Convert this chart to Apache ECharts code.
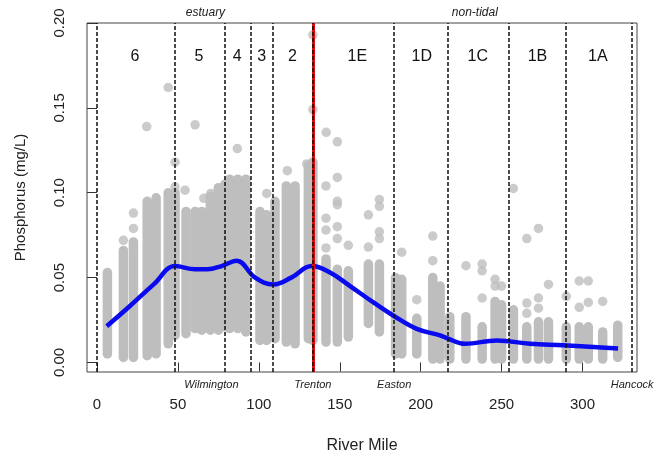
<!DOCTYPE html>
<html><head><meta charset="utf-8">
<script src="https://cdn.jsdelivr.net/npm/echarts@6/dist/echarts.min.js"></script>
<style>html,body{margin:0;padding:0;background:#fff}#c{width:654px;height:459px}</style>
</head><body><div id="c"></div>
<script>
// Station columns of observations: river mile, lowest and highest value in the dense stack
const colMiles = [6.4,16.3,22.5,31,36.5,44,48.2,55,60.6,64.7,70,75,79,82,87,92,100.7,104.8,110,117,122.4,130.6,133.4,141.5,148.5,155.3,167.7,174.5,184.5,188.3,197.6,207.5,212,218,228,238,246,250,257.3,265.6,272.8,279,290,298,303.6,312.5,321.8];
const colLow   = [0.005,0.003,0.003,0.004,0.005,0.011,0.016,0.017,0.020,0.019,0.019,0.019,0.021,0.020,0.020,0.018,0.013,0.013,0.014,0.012,0.011,0.014,0.013,0.012,0.012,0.015,0.023,0.018,0.005,0.005,0.005,0.002,0.002,0.002,0.002,0.002,0.002,0.002,0.002,0.002,0.002,0.002,0.002,0.002,0.002,0.002,0.003];
const colHigh  = [0.053,0.066,0.071,0.095,0.097,0.100,0.100,0.089,0.089,0.089,0.098,0.103,0.105,0.108,0.108,0.108,0.089,0.087,0.095,0.104,0.104,0.116,0.118,0.061,0.055,0.054,0.058,0.058,0.050,0.049,0.026,0.050,0.045,0.027,0.027,0.021,0.036,0.034,0.031,0.021,0.024,0.024,0.021,0.021,0.021,0.018,0.022];
// Individual scattered observations
const outMiles  = [16.3,22.5,22.5,30.7,44,48.2,48.2,54.4,60.6,66,70.3,86.7,104.9,117.6,129.6,133.4,133.4,141.6,141.5,141.5,141.5,141.5,148.5,148.5,148.5,148.5,148.5,148.5,155.3,167.7,167.7,174.5,174.5,174.5,174.5,188.3,197.6,207.5,207.5,228,238,238,238,246,246,250,257.3,265.6,265.6,265.6,272.8,272.8,272.8,279,290,298,298,303.6,303.6,312.5];
const outValues = [0.072,0.079,0.088,0.139,0.162,0.118,0.1035,0.1015,0.140,0.0967,0.0996,0.126,0.0996,0.113,0.117,0.149,0.193,0.1356,0.104,0.085,0.078,0.0675,0.130,0.109,0.095,0.093,0.080,0.073,0.069,0.087,0.068,0.096,0.092,0.077,0.073,0.065,0.037,0.0745,0.060,0.057,0.058,0.054,0.038,0.049,0.045,0.045,0.1025,0.073,0.035,0.029,0.079,0.038,0.032,0.046,0.039,0.048,0.0325,0.048,0.0354,0.036];
// Smoothed trend (blue)
const trendMiles  = [6,20,35,48.3,60.6,68,77,86.3,97.7,109,120,132.7,144,156.4,170.8,183,197.6,212,217,227.4,247,267.6,288,322];
const trendValues = [0.0214,0.033,0.046,0.0568,0.0549,0.0549,0.0568,0.060,0.050,0.046,0.050,0.0568,0.053,0.045,0.0354,0.0277,0.0198,0.016,0.014,0.011,0.013,0.011,0.0101,0.0082];
// Zone boundaries and labels
const zoneBounds = [0,48.2,78.8,95.0,108.4,183.66,217,254.75,289.9,330.7];
const trentonMile = 133.4;
const zoneNames = ['6','5','4','3','2','1E','1D','1C','1B','1A'];
const zoneLabelMiles = [23.5,63,86.7,101.8,120.7,160.9,200.7,235.3,272.2,309.5];
const zoneLabelLevel = 0.18;
const placeNames = ['Wilmington','Trenton','Easton','Hancock'];
const placeMiles = [70.7,133.4,183.66,330.7];
const regionNames = ['estuary','non-tidal'];
const regionMiles = [67,233.5];
const xTicks = [0,50,100,150,200,250,300];
const yTicks = [0,0.05,0.10,0.15,0.20];
const X_MIN = -6.2, X_MAX = 333.7, Y_MIN = -0.0056, Y_MAX = 0.2;

const FONT = "'Liberation Sans', Arial, sans-serif";
const GRAY = '#bebebe';

const chart = echarts.init(document.getElementById('c'), null, {renderer:'canvas'});

const columnData = colMiles.map((m,i)=>[m,colLow[i],colHigh[i]]);
const pointData = outMiles.map((m,i)=>[m,outValues[i]]);
const trendData = trendMiles.map((m,i)=>[m,trendValues[i]]);
const zoneLabelData = zoneLabelMiles.map((m,i)=>[m,zoneLabelLevel,zoneNames[i]]);
const placeData = placeMiles.map((m,i)=>[m,Y_MIN,placeNames[i]]);
const regionData = regionMiles.map((m,i)=>[m,Y_MAX,regionNames[i]]);

chart.setOption({
  animation:false,
  backgroundColor:'#fff',
  grid:{left:87,right:17,top:23,bottom:84,show:true,borderColor:'#444',borderWidth:1,backgroundColor:'transparent'},
  xAxis:{
    type:'value',min:X_MIN,max:X_MAX,
    name:'River Mile',nameLocation:'middle',nameGap:66,
    nameTextStyle:{fontFamily:FONT,fontSize:16,color:'#222'},
    axisLine:{show:false},
    splitLine:{show:false},
    axisTick:{show:true,length:9,inside:false,customValues:xTicks,lineStyle:{color:'#333',width:1}},
    axisLabel:{customValues:xTicks,fontFamily:FONT,fontSize:15,color:'#222',margin:25}
  },
  yAxis:{
    type:'value',min:Y_MIN,max:Y_MAX,
    name:'Phosphorus (mg/L)',nameLocation:'middle',nameGap:59,
    nameTextStyle:{fontFamily:FONT,fontSize:15,color:'#222'},
    axisLine:{show:false},
    splitLine:{show:false},
    axisTick:{show:true,length:10,customValues:yTicks,lineStyle:{color:'#333',width:1}},
    axisLabel:{customValues:yTicks,rotate:90,fontFamily:FONT,fontSize:15,color:'#222',margin:20,
      formatter:v=>v.toFixed(2)}
  },
  series:[
    {
      type:'custom',name:'columns',data:columnData,silent:true,
      renderItem:(params,api)=>{
        const p1=api.coord([api.value(0),api.value(1)]);
        const p2=api.coord([api.value(0),api.value(2)]);
        return {type:'line',shape:{x1:p1[0],y1:p1[1],x2:p2[0],y2:p2[1]},
          style:{stroke:GRAY,lineWidth:9.5,lineCap:'round'}};
      }
    },
    {
      type:'scatter',name:'points',data:pointData,symbol:'circle',symbolSize:9.5,silent:true,
      itemStyle:{color:GRAY}
    },
    {
      type:'line',name:'trenton',data:[],silent:true,
      markLine:{silent:true,symbol:['none','none'],label:{show:false},
        lineStyle:{color:'#d81010',type:'solid',width:3},
        data:[{xAxis:trentonMile}]}
    },
    {
      type:'line',name:'zones',data:[],silent:true,
      markLine:{silent:true,symbol:['none','none'],label:{show:false},
        lineStyle:{color:'#111',type:[4,2],width:1.5},
        data:zoneBounds.concat([trentonMile]).map(v=>({xAxis:v}))}
    },
    {
      type:'line',name:'trend',data:trendData,smooth:0.4,symbol:'none',silent:true,
      lineStyle:{color:'#0a0aee',width:4.5}
    },
    {
      type:'custom',name:'zoneLabels',data:zoneLabelData,silent:true,
      renderItem:(params,api)=>{
        const p=api.coord([api.value(0),api.value(1)]);
        return {type:'text',x:p[0],y:p[1],style:{text:zoneLabelData[params.dataIndex][2],
          font:'16px '+FONT,fill:'#111',textAlign:'center',textVerticalAlign:'middle'}};
      }
    },
    {
      type:'custom',name:'places',data:placeData,silent:true,
      renderItem:(params,api)=>{
        const p=api.coord([api.value(0),api.value(1)]);
        return {type:'text',x:p[0],y:p[1]+13,style:{text:placeData[params.dataIndex][2],
          font:'italic 11px '+FONT,fill:'#222',textAlign:'center',textVerticalAlign:'middle'}};
      }
    },
    {
      type:'custom',name:'regions',data:regionData,silent:true,
      renderItem:(params,api)=>{
        const p=api.coord([api.value(0),api.value(1)]);
        return {type:'text',x:p[0],y:p[1]-10,style:{text:regionData[params.dataIndex][2],
          font:'italic 12px '+FONT,fill:'#222',textAlign:'center',textVerticalAlign:'middle'}};
      }
    }
  ]
});
</script></body></html>
